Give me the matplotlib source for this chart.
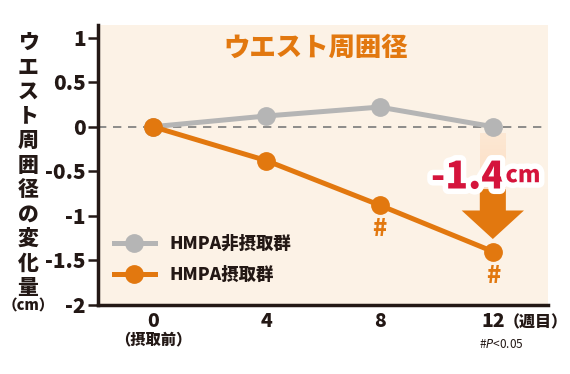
import matplotlib.pyplot as plt
import matplotlib.patheffects as pe
from matplotlib.patches import FancyArrow
import numpy as np

plt.rcParams['font.family'] = ['Noto Sans CJK JP', 'DejaVu Sans']

# データ
weeks = [0, 4, 8, 12]
non_intake = [0, 0.12, 0.22, 0.0]      # HMPA非摂取群
intake = [0, -0.38, -0.88, -1.40]      # HMPA摂取群
yticks = [1, 0.5, 0, -0.5, -1, -1.5, -2]
ytick_labels = ['1', '0.5', '0', '-0.5', '-1', '-1.5', '-2']
sig_weeks = [8, 12]                    # # P<0.05

orange = '#e2780f'
gray = '#b5b5b5'
dark = '#231815'
bold = 'heavy'

fig = plt.figure(figsize=(5.7, 3.74), dpi=100)
ax = fig.add_axes([0.172, 0.1845, 0.789, 0.7485])
ax.set_facecolor('#fcf2e6')

# 0の点線
ax.axhline(0, color='#7a7a7a', lw=1.2, ls=(0, (5, 4)), zorder=1)

ax.plot(weeks, non_intake, color=gray, lw=3.6, marker='o', ms=12.5, zorder=3, label='HMPA非摂取群')
ax.plot(weeks, intake, color=orange, lw=3.6, marker='o', ms=12.5, zorder=4, label='HMPA摂取群')

# 有意差マーク
for w in sig_weeks:
    yv = intake[weeks.index(w)]
    ax.text(w, yv - 0.27, '#', color=orange, fontsize=17, fontweight=bold,
            ha='center', va='center', zorder=5)

# 矢印の上のうすいバー
grad = np.linspace(0, 1, 50).reshape(-1, 1)
ax.imshow(grad, extent=(11.55, 12.45, -0.72, -0.08), cmap='Oranges', vmin=-1.5, vmax=3,
          aspect='auto', alpha=0.18, zorder=2)
ax.set_xlim(-1.94, 13.94)
ax.set_ylim(-2, 1.14)

# 下向き矢印
arr = FancyArrow(12, -0.70, 0, -0.56, width=0.92, head_width=2.2, head_length=0.32,
                 length_includes_head=True, color=orange, lw=0, zorder=6)
ax.add_patch(arr)

# -1.4cm
stroke = [pe.withStroke(linewidth=8, foreground='white')]
ax.text(12.4, -0.57, '-1.4', color='#d5143c', fontsize=27, fontweight=bold,
        ha='right', va='center', zorder=7, path_effects=stroke)
ax.text(12.45, -0.55, 'cm', color='#d5143c', fontsize=16.5, fontweight=bold,
        ha='left', va='center', zorder=7, path_effects=stroke)

# タイトル
ax.text(5.75, 0.89, 'ウエスト周囲径', color=orange, fontsize=19, fontweight=bold,
        ha='center', va='center')

# 軸
for s in ['top', 'right']:
    ax.spines[s].set_visible(False)
ax.spines['left'].set_linewidth(2.5)
ax.spines['bottom'].set_linewidth(2.5)
ax.spines['left'].set_color(dark)
ax.spines['bottom'].set_color(dark)
ax.set_yticks(yticks)
ax.set_yticklabels(ytick_labels, fontsize=15, fontweight=bold, color=dark)
ax.tick_params(axis='y', length=7, width=1.8, color=dark, pad=2)
ax.set_xticks(weeks)
ax.set_xticklabels(['0', '4', '8', '12'], fontsize=14, fontweight=bold, color=dark)
ax.tick_params(axis='x', length=0, pad=5)

ax.text(0, -2.39, '（摂取前）', fontsize=11, color=dark, ha='center', va='center',
        fontweight=bold, clip_on=False)
ax.text(12.38, -2.2, '（週目）', fontsize=11.5, color=dark, ha='left', va='center',
        fontweight=bold, clip_on=False)
ax.text(12.3, -2.44, '#$\\it{P}$<0.05', fontsize=8.5, color=dark, ha='center', va='center',
        clip_on=False)

# 凡例
leg = ax.legend(loc='lower left', bbox_to_anchor=(0.0, 0.02), frameon=False,
                handlelength=2.4, labelspacing=0.75, prop={'weight': bold, 'size': 12.5})
for t in leg.get_texts():
    t.set_color(dark)

# 縦書きのy軸ラベル
ylabel_chars = list('ウエスト周囲径の変化量')
for i, ch in enumerate(ylabel_chars):
    fig.text(28 / 570, 1 - (43 + i * 24.5) / 374, ch, fontsize=15, fontweight=bold,
             color=dark, ha='center', va='center')
fig.text(28 / 570, 1 - 306 / 374, '（cm）', fontsize=10.5, color=dark, ha='center',
         va='center', fontweight=bold)

fig.savefig('out.png', dpi=100)
